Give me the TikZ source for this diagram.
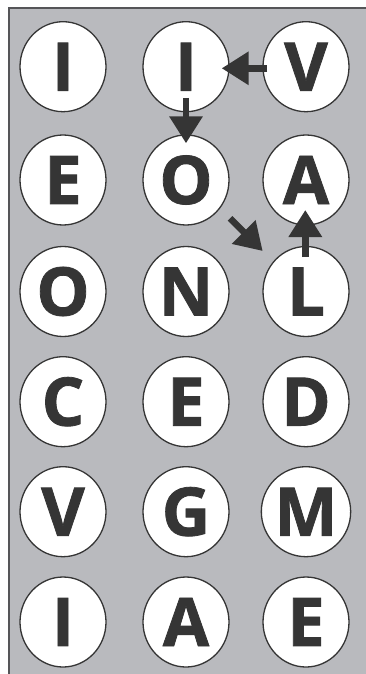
\documentclass[tikz,border=0pt]{standalone}
\usepackage{fontspec}
\setmainfont{Open Sans}[BoldFeatures={FakeBold=1.2}]
\usetikzlibrary{shapes.geometric,arrows.meta}
\definecolor{bggray}{HTML}{B9BABE}
\definecolor{edgegray}{HTML}{555558}
\definecolor{ink}{HTML}{353535}
\tikzset{
  letter/.style={ellipse, draw=ink, line width=1.3pt, fill=white,
    minimum width=86pt, minimum height=90pt, inner sep=0pt,
    text=ink, font=\fontsize{67}{67}\selectfont\bfseries},
  arr/.style={draw=ink, line width=6.5pt,
    -{Triangle[length=27pt,width=32pt]}, shorten >=0pt}
}
\begin{document}
\begin{tikzpicture}[x=1pt,y=-1pt]
\useasboundingbox (0,0) rectangle (366,674);
\fill[white] (0,0) rectangle (366,674);
\fill[bggray] (9,8) rectangle (370,680);
\draw[edgegray, line width=2.5pt] (9,680) -- (9,8) -- (370,8);
% columns: 63, 186, 306 ; rows: 66.7, 180, 291.5, 401.7, 511.7, 622
\node[letter] (a1) at (63,66.7) {I};
\node[letter] (a2) at (186,66.7) {I};
\node[letter] (a3) at (306,66.7) {V};
\node[letter] (b1) at (63,180) {E};
\node[letter] (b2) at (186,180) {O};
\node[letter] (b3) at (306,180) {A};
\node[letter] (c1) at (63,291.5) {O};
\node[letter] (c2) at (186,291.5) {N};
\node[letter] (c3) at (306,291.5) {L};
\node[letter] (d1) at (63,401.7) {C};
\node[letter] (d2) at (186,401.7) {E};
\node[letter] (d3) at (306,401.7) {D};
\node[letter] (e1) at (63,511.7) {V};
\node[letter] (e2) at (186,511.7) {G};
\node[letter] (e3) at (306,511.7) {M};
\node[letter] (f1) at (63,622) {I};
\node[letter] (f2) at (186,622) {A};
\node[letter] (f3) at (306,622) {E};
% arrows
\coordinate (v1) at (267,68.3);
\coordinate (v2) at (221.7,68.3);
\draw[arr] (v1) -- (v2);
\coordinate (i1) at (186,98);
\coordinate (i2) at (186,143.3);
\draw[arr] (i1) -- (i2);
\coordinate (d1s) at (230,218.3);
\coordinate (d1e) at (262.7,251);
\draw[arr] (d1s) -- (d1e);
\coordinate (l1) at (305.3,257);
\coordinate (l2) at (305.3,210);
\draw[arr] (l1) -- (l2);
\end{tikzpicture}
\end{document}
